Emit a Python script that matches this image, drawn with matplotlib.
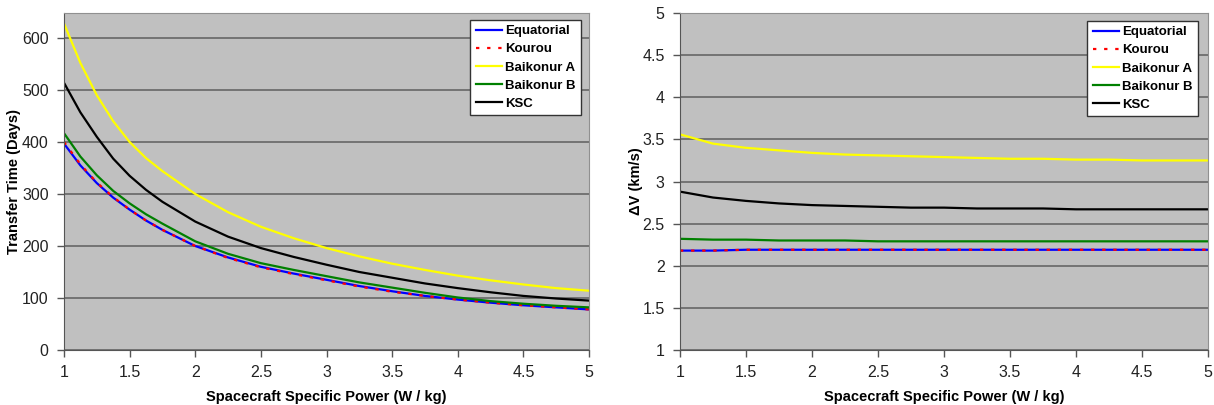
import matplotlib
matplotlib.use('Agg')
import matplotlib.pyplot as plt

plt.rcParams['font.family'] = ['Liberation Sans', 'DejaVu Sans']

sites = ['Equatorial', 'Kourou', 'Baikonur A', 'Baikonur B', 'KSC']

# transfer time (days)
power_t = [1, 1.125, 1.25, 1.375, 1.5, 1.625, 1.75, 2, 2.25, 2.5, 2.75, 3, 3.25, 3.5, 3.75, 4, 4.25, 4.5, 4.75, 5]
time_equatorial = [397, 355, 321, 293, 270, 249, 231, 200, 178, 160, 147, 135, 123, 113, 104, 97, 91, 86, 82, 78]
time_kourou = [400, 357, 322, 294, 270, 249, 231, 200, 177, 159, 146, 134, 122, 112, 104, 97, 91, 86, 82, 78]
time_baikonur_a = [628, 552, 490, 440, 400, 369, 344, 300, 265, 237, 215, 196, 180, 166, 154, 143, 134, 126, 119, 114]
time_baikonur_b = [417, 372, 336, 306, 282, 261, 243, 209, 185, 167, 154, 142, 130, 120, 110, 101, 94, 89, 85, 82]
time_ksc = [514, 457, 410, 368, 335, 308, 285, 247, 218, 196, 179, 164, 150, 139, 128, 119, 111, 104, 99, 95]

# delta V (km/s)
power_v = [1, 1.25, 1.5, 1.75, 2, 2.25, 2.5, 2.75, 3, 3.25, 3.5, 3.75, 4, 4.25, 4.5, 4.75, 5]
dv_equatorial = [2.18, 2.18, 2.19, 2.19, 2.19, 2.19, 2.19, 2.19, 2.19, 2.19, 2.19, 2.19, 2.19, 2.19, 2.19, 2.19, 2.19]
dv_kourou = [2.18, 2.18, 2.19, 2.19, 2.19, 2.19, 2.19, 2.19, 2.19, 2.19, 2.19, 2.19, 2.19, 2.19, 2.19, 2.19, 2.19]
dv_baikonur_a = [3.56, 3.45, 3.40, 3.37, 3.34, 3.32, 3.31, 3.30, 3.29, 3.28, 3.27, 3.27, 3.26, 3.26, 3.25, 3.25, 3.25]
dv_baikonur_b = [2.32, 2.31, 2.31, 2.30, 2.30, 2.30, 2.29, 2.29, 2.29, 2.29, 2.29, 2.29, 2.29, 2.29, 2.29, 2.29, 2.29]
dv_ksc = [2.88, 2.81, 2.77, 2.74, 2.72, 2.71, 2.70, 2.69, 2.69, 2.68, 2.68, 2.68, 2.67, 2.67, 2.67, 2.67, 2.67]

colors = ['#0000ff', '#ff0000', '#ffff00', '#008000', '#000000']
styles = ['-', (0, (1.5, 3.5)), '-', '-', '-']

fig = plt.figure(figsize=(12.14, 4.05), dpi=100)
ax1 = fig.add_axes([0.0527, 0.1358, 0.4325, 0.832])
ax2 = fig.add_axes([0.5601, 0.1358, 0.435, 0.832])


def style_axis(ax, ylabel, anchor, ylab_x):
    ax.set_facecolor('#c0c0c0')
    ax.set_xlim(1, 5)
    ax.set_xticks([1, 1.5, 2, 2.5, 3, 3.5, 4, 4.5, 5])
    ax.set_xticklabels(['1', '1.5', '2', '2.5', '3', '3.5', '4', '4.5', '5'])
    ax.yaxis.grid(True, color='#5f5f5f', linewidth=1.1)
    ax.set_axisbelow(True)
    ax.tick_params(direction='out', length=5, width=1, color='#555555',
                   labelsize=11.5, labelcolor='#222222', pad=6)
    for side in ['left', 'bottom']:
        ax.spines[side].set_color('#555555')
    for side in ['top', 'right']:
        ax.spines[side].set_color('#909090')
    ax.set_xlabel('Spacecraft Specific Power (W / kg)', fontsize=10.5, fontweight='bold', labelpad=7)
    ax.set_ylabel(ylabel, fontsize=10.5, fontweight='bold')
    ax.yaxis.set_label_coords(ylab_x, 0.5)
    leg = ax.legend(loc='upper right', bbox_to_anchor=anchor, fancybox=False,
                    framealpha=1, edgecolor='#333333', prop={'weight': 'bold', 'size': 9.5},
                    handlelength=2.0, handletextpad=0.25, labelspacing=0.45, borderpad=0.4,
                    borderaxespad=0)
    leg.get_frame().set_linewidth(1)


series1 = [time_equatorial, time_kourou, time_baikonur_a, time_baikonur_b, time_ksc]
for vals, name, c, ls in zip(series1, sites, colors, styles):
    ax1.plot(power_t, vals, color=c, linestyle=ls, linewidth=1.6, label=name)
ax1.set_ylim(0, 648)
ax1.set_yticks([0, 100, 200, 300, 400, 500, 600])
style_axis(ax1, 'Transfer Time (Days)', (0.985, 0.98), -0.082)

series2 = [dv_equatorial, dv_kourou, dv_baikonur_a, dv_baikonur_b, dv_ksc]
for vals, name, c, ls in zip(series2, sites, colors, styles):
    ax2.plot(power_v, vals, color=c, linestyle=ls, linewidth=1.6, label=name)
ax2.set_ylim(1, 5)
ax2.set_yticks([1, 1.5, 2, 2.5, 3, 3.5, 4, 4.5, 5])
ax2.set_yticklabels(['1', '1.5', '2', '2.5', '3', '3.5', '4', '4.5', '5'])
style_axis(ax2, 'ΔV (km/s)', (0.981, 0.977), -0.070)

fig.savefig('out.png', dpi=100)
